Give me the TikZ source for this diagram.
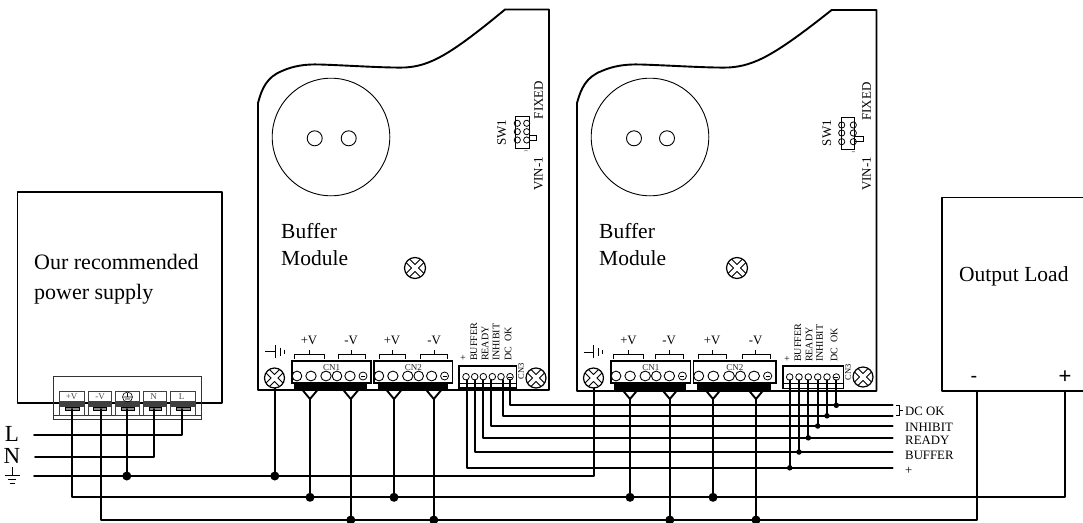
\documentclass[tikz,border=0pt]{standalone}
\usepackage{fontspec}
\setmainfont{Liberation Serif}
\newfontfamily\arialf{Liberation Sans}
\newcommand{\fs}[1]{\fontsize{#1}{#1}\selectfont}
\tikzset{
  x=1pt,y=-1pt,
  wire/.style={line width=1.9pt,line cap=round,line join=round},
  outl/.style={line width=1.9pt,line join=round},
  thin1/.style={line width=0.7pt},
  dotj/.style={circle,fill=black,inner sep=0pt,minimum size=#1},
  dotj/.default=9pt,
  lab/.style={inner sep=0pt,font=\fs{#1}},
  rlab/.style={inner sep=0pt,rotate=90,anchor=west,font=\fs{#1}},
}
% screw symbol
\newcommand{\screw}[3]{%
  \begin{scope}[shift={(#1,#2)}]
    \begin{scope}
      \clip (0,0) circle[radius=#3];
      \draw[line width=5.8pt] (-#3,-#3)--(#3,#3) (-#3,#3)--(#3,-#3);
      \draw[white,line width=3.8pt] (-#3,-#3)--(#3,#3) (-#3,#3)--(#3,-#3);
    \end{scope}
    \draw[line width=1.2pt] (0,0) circle[radius=#3];
  \end{scope}}
% connector: left x, width, label, bar left offset, bar width
\newcommand{\connector}[5]{%
  \pgfmathsetmacro{\sx}{#2/79}
  \fill[black] (#1+#4,383) rectangle (#1+#4+#5,389.5);
  \draw[line width=1.6pt] (#1,361) rectangle (#1+#2,383);
  \begin{scope}[shift={(#1,0)},xscale=\sx]
    \foreach \cx/\cr in {5/4.8,19/5.2,34/5.2,45/4.8,58/5.2}
      \draw[line width=0.9pt] (\cx,376) circle[x radius=\cr,y radius=4.9];
    \draw[line width=0.8pt] (71,376) circle[x radius=4,y radius=4];
    \draw[line width=0.5pt] (69,376)--(73,376);
  \end{scope}
  \node[lab=9,gray!30!black] at (#1+#2/2,368) {#3};}
\newcommand{\bracket}[5]{% x1 x2 mid ylabel label
  \draw[line width=0.8pt] (#1,359)--(#1,354.5)--(#2,354.5)--(#2,359) (#3,354.5)--(#3,350);
  \node[lab=12.8] at (#3,340) {#4};}
\newcommand{\fork}[1]{\draw[wire] (#1-7.5,390)--(#1,399)--(#1+7.5,390);}
\newcommand{\terminal}[3]{% left right label
  \draw[line width=0.5pt,black!75] (#1,391) rectangle (#2,415);
  \fill[black!75] (#1,401) rectangle (#2,407.3);
  \draw[line width=0.5pt,fill=black!45] (#1+5.5,407.3) rectangle (#2-5,410.3);
  #3}
\begin{document}
\begin{tikzpicture}
\useasboundingbox (0,0) rectangle (1083,522);
\clip (0,0) rectangle (1083,522);
% ---------- power supply
\draw[outl] (17.5,192) rectangle (222,402.7);
\draw[line width=0.6pt,black!80] (53,376.7) rectangle (201,419.3) (53,415)--(201,415);
\terminal{59.3}{84}{\node[lab=9,black!70] (tv1) at (71.6,397) {+V};}
\terminal{88}{111.7}{\node[lab=9,black!70] (tv2) at (100,397) {-V};}
\terminal{115.7}{139.3}{\draw[line width=0.6pt] (127.5,397) circle[radius=5] (127.5,393)--(127.5,397) (123.5,397)--(131.5,397) (125,399)--(130,399);}
\terminal{143.3}{166.7}{\node[lab=9,black!70] (tn) at (153.5,397) {N};}
\terminal{170.7}{195}{\node[lab=9,black!70] (tl) at (181.5,397) {L};}
\node[lab=22,anchor=base west] (psa) at (34,269) {Our recommended};
\node[lab=22,anchor=base west] (psb) at (34,299) {power supply};
% mains labels
\node[lab=23] (lL) at (12,434) {L};
\node[lab=23] (lN) at (12,456) {N};
\draw[line width=1pt] (12,467)--(12,475.5) (5,475.5)--(20,475.5) (8,479.5)--(16,479.5) (9.5,483.7)--(14.5,483.7);
% ---------- module 1 outline
\draw[outl] (258,390)--(258,103)
  .. controls (262,88) and (267,77) .. (282,71)
  .. controls (293,66) and (305,64) .. (320,64.5)
  .. controls (350,65.5) and (385,68) .. (405,67.5)
  .. controls (430,66) and (450,55) .. (505,9.5)
  -- (549,9.5) -- (549,390) -- cycle;
\draw[line width=0.9pt] (331,137) circle[radius=58.8];
\draw[line width=0.9pt] (314.7,138.3) circle[radius=7.5] (348.7,138.3) circle[radius=7.5];
\node[lab=21.5,anchor=base west] (m1a) at (281,238) {Buffer};
\node[lab=21.5,anchor=base west] (m1b) at (281,265) {Module};
\screw{415}{268}{10.5}
\screw{274.5}{378}{10}
\screw{536}{378}{10}
\draw[line width=1pt] (265,351.7)--(275,351.7) (275,345)--(275,358) (280,347.5)--(280,356);
\draw[line width=1pt] (284,349.5)--(284,354);
\connector{292}{79}{CN1}{1.5}{73}
\connector{374}{78.5}{CN2}{4}{70}
\bracket{294}{324}{309}{+V}{}
\bracket{338}{365}{351}{-V}{}
\bracket{379}{405}{392}{+V}{}
\bracket{420.5}{447}{434}{-V}{}
% CN3
\draw[line width=1.6pt] (459,365.7) rectangle (516.5,387.7);
\draw[line width=0.5pt] (459,383)--(516.5,383);
\foreach \cx in {466,474.7,483.3,492.3,501,510} \draw[line width=0.8pt] (\cx,376.7) circle[radius=3.3];
\draw[line width=0.4pt] (508,376.7)--(512,376.7);
\node[rlab=10] (a1) at (463.5,361) {+};
\node[rlab=10] (a2) at (474,361) {BUFFER};
\node[rlab=10] (a3) at (485,361) {READY};
\node[rlab=10] (a4) at (496,361) {INHIBIT};
\node[rlab=10] (a5) at (508,361) {DC\ \ OK};
\node[lab=8.5,rotate=90] (a6) at (521,371) {CN3};
% SW1
\node[lab=13,rotate=90] (s1) at (501.7,132.7) {SW1};
\node[lab=13,rotate=90] (s2) at (538.5,100) {FIXED};
\node[lab=13,rotate=90] (s3) at (538.5,174) {VIN-1};
\draw[line width=0.8pt] (515,116.7) rectangle (529.3,148) (529.3,135) rectangle (536.7,140);
\foreach \cx in {517.3,526.7} \foreach \cy in {123.3,131.7,140} \draw[line width=0.8pt] (\cx,\cy) circle[radius=3.1];
\node[lab=4.5,rotate=90] (s4) at (526,151.5) {1};
% ---------- module 2 outline
\begin{scope}[shift={(577,0)},xscale=1.031]
\draw[outl] (0,391)--(0,103)
  .. controls (4,88) and (9,77) .. (24,71)
  .. controls (35,66) and (47,64) .. (62,64.5)
  .. controls (92,65.5) and (127,68) .. (147,67.5)
  .. controls (172,66) and (192,55) .. (247,10)
  -- (290.5,10) -- (290.5,391) -- cycle;
\end{scope}
\draw[line width=0.9pt] (650,137) circle[radius=58.8];
\draw[line width=0.9pt] (634,138.3) circle[radius=7.5] (667,138.3) circle[radius=7.5];
\node[lab=21.5,anchor=base west] (m2a) at (599,238) {Buffer};
\node[lab=21.5,anchor=base west] (m2b) at (599,265) {Module};
\screw{737}{268}{10.5}
\screw{593.5}{378}{10}
\screw{863}{377}{10}
\draw[line width=1pt] (583.5,352)--(593.5,352) (593.5,345.3)--(593.5,358.3) (598.5,347.8)--(598.5,356.3);
\draw[line width=1pt] (602.5,349.8)--(602.5,354.3);
\connector{611}{79.5}{CN1}{3}{72}
\connector{693.5}{82.5}{CN2}{3}{74}
\bracket{613.5}{643}{628.5}{+V}{}
\bracket{655.5}{683}{669}{-V}{}
\bracket{698}{726}{712}{+V}{}
\bracket{742}{770}{755.5}{-V}{}
% CN3 module 2
\draw[line width=1.6pt] (782.7,365.7) rectangle (843.3,388.3);
\draw[line width=0.5pt] (782.7,383)--(843.3,383);
\foreach \cx in {789.7,799,808.3,817.7,827,836.3} \draw[line width=0.8pt] (\cx,377) circle[radius=3.3];
\draw[line width=0.4pt] (834.3,377)--(838.3,377);
\node[rlab=10] (b1) at (787.5,362) {+};
\node[rlab=10] (b2) at (798,362) {BUFFER};
\node[rlab=10] (b3) at (809,362) {READY};
\node[rlab=10] (b4) at (819.5,362) {INHIBIT};
\node[rlab=10] (b5) at (834,362) {DC\ \ OK};
\node[lab=8.5,rotate=90] (b6) at (848,372) {CN3};
\node[lab=13,rotate=90] (t1) at (827,133) {SW1};
\node[lab=13,rotate=90] (t2) at (866.7,101.5) {FIXED};
\node[lab=13,rotate=90] (t3) at (866.7,174) {VIN-1};
\draw[line width=0.8pt] (841.7,117) rectangle (854,149) (854,136) rectangle (863.5,141);
\foreach \cx in {841.7,853.3} \foreach \cy in {125,133,141.7} \draw[line width=0.8pt] (\cx,\cy) circle[radius=3.1];
\node[lab=4.5,rotate=90] (t4) at (853.5,152) {1};
% ---------- output load
\draw[outl] (1083,197.5)--(942,197.5)--(942,391)--(1083,391);
\node[lab=21.5,anchor=base west] (ol) at (959,281.5) {Output Load};
\node[inner sep=0pt,font=\arialf\fs{20}] (om) at (974,379) {-};
\node[inner sep=0pt,font=\arialf\fs{22}] (op) at (1065,377.5) {+};
% ---------- mains wires
\draw[wire] (34,435.3)--(182,435.3)--(182,409);
\draw[wire] (35,456.7)--(154,456.7)--(154,409);
\draw[wire] (34,476)--(593.8,476)--(593.8,388);
\draw[wire] (126.8,409)--(126.8,476);
\draw[wire] (71.7,409)--(71.7,497.3)--(1065,497.3)--(1065,391);
\draw[wire] (100.8,409)--(100.8,520)--(976.7,520)--(976.7,391);
\draw[wire] (274.8,388)--(274.8,476);
\foreach \fx in {310,350.8,394,433.8,630,669.8,713,756}{\fork{\fx}}
\foreach \fx in {310,394,630,713}{\draw[wire] (\fx,399)--(\fx,497.3); \node[dotj] at (\fx,497.3) {};}
\foreach \fx in {350.8,433.8,669.8,756}{\draw[wire] (\fx,399)--(\fx,520); \node[dotj] at (\fx,520) {};}
\node[dotj] at (126.8,476) {};
\node[dotj] at (274.8,476) {};
% ---------- signal wires
\foreach \xa/\xb/\yy in {466.8/789.7/467.8,474.7/799/452,482.8/808.3/437.8,491/817.7/426,502.8/827/415.8,510/836.3/405.3}{
  \draw[wire] (\xa,380)--(\xa,\yy)--(892.7,\yy);
  \draw[wire] (\xb,380)--(\xb,\yy);
  \node[dotj=5.5pt] at (\xb,\yy) {};
}
\draw[line width=0.9pt] (896,405)--(899,405)--(899,415)--(896,415) (899,410)--(903,410);
\node[lab=12.8,anchor=west] (dc) at (905,411) {DC OK};
\node[lab=12.8,anchor=west] (in) at (905,427) {INHIBIT};
\node[lab=12.8,anchor=west] (re) at (905,440) {READY};
\node[lab=12.8,anchor=west] (bu) at (905,455) {BUFFER};
\node[lab=12.8,anchor=west] (pl) at (905,471) {+};
\end{tikzpicture}
\end{document}
